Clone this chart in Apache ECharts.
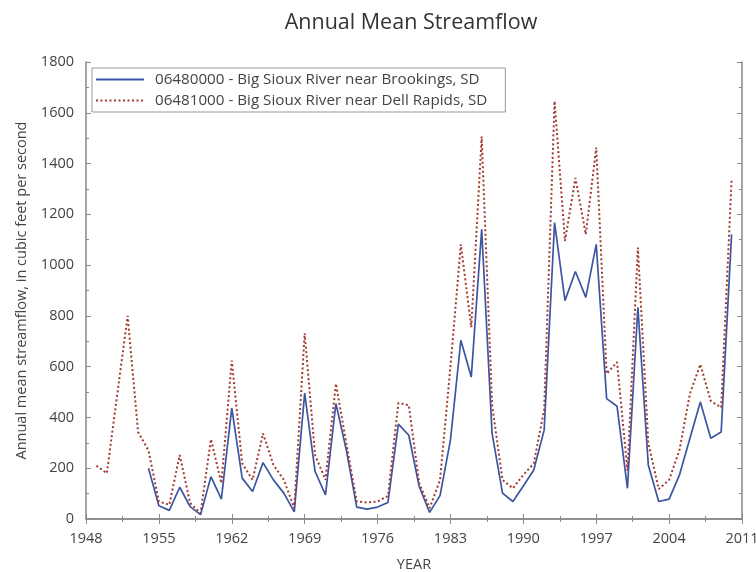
<!DOCTYPE html>
<html>
<head>
<meta charset="utf-8">
<title>Annual Mean Streamflow</title>
<script src="https://cdn.jsdelivr.net/npm/echarts@6/dist/echarts.min.js"></script>
<style>
  html, body { margin: 0; padding: 0; background: #fff; }
  #chart { width: 756px; height: 572px; }
</style>
</head>
<body>
<div id="chart"></div>
<script>
// years 1949-2010
const years = [1949, 1950, 1951, 1952, 1953, 1954, 1955, 1956, 1957, 1958, 1959,
  1960, 1961, 1962, 1963, 1964, 1965, 1966, 1967, 1968, 1969,
  1970, 1971, 1972, 1973, 1974, 1975, 1976, 1977, 1978, 1979,
  1980, 1981, 1982, 1983, 1984, 1985, 1986, 1987, 1988, 1989,
  1990, 1991, 1992, 1993, 1994, 1995, 1996, 1997, 1998, 1999,
  2000, 2001, 2002, 2003, 2004, 2005, 2006, 2007, 2008, 2009, 2010]

// 06480000 - Brookings (record starts 1954)
const brookings = [null, null, null, null, null, 200, 52, 34, 125, 49, 17,
  167, 78, 437, 161, 108, 222, 154, 102, 28, 496,
  187, 95, 455, 272, 47, 39, 47, 65, 374, 330,
  128, 26, 92, 311, 704, 559, 1141, 337, 102, 69,
  130, 193, 350, 1167, 860, 975, 873, 1082, 474, 444,
  121, 834, 213, 69, 78, 174, 318, 461, 318, 343, 1121]

// 06481000 - Dell Rapids
const dellRapids = [210, 180, 490, 800, 343, 270, 69, 56, 252, 63, 23,
  314, 141, 624, 219, 154, 337, 213, 154, 43, 731,
  252, 154, 533, 298, 69, 65, 69, 91, 457, 448,
  141, 43, 154, 600, 1082, 755, 1506, 450, 154, 121,
  174, 219, 430, 1646, 1095, 1343, 1121, 1463, 572, 618,
  190, 1069, 300, 118, 154, 272, 494, 609, 465, 439, 1337]

const seriesNames = [
  '06480000 - Big Sioux River near Brookings, SD',
  '06481000 - Big Sioux River near Dell Rapids, SD'
]

const font = 'Open Sans, Noto Sans, sans-serif'
const textColor = '#444'
const frameColor = '#8a8a8a'

const chart = echarts.init(document.getElementById('chart'))

const pairs = vals => years.map((y, i) => [y, vals[i]])

// mirror axes only give the box its ticks on top / right
const mirrorX = {
  type: 'value', position: 'top', min: 1948, max: 2011, interval: 7,
  axisLine: { show: true, lineStyle: { color: frameColor, width: 1.5 } },
  axisTick: { show: true, inside: true, length: 5, lineStyle: { color: frameColor } },
  minorTick: { show: true, splitNumber: 2, length: 3, lineStyle: { color: frameColor } },
  axisLabel: { show: false },
  splitLine: { show: false }
}
const mirrorY = {
  type: 'value', position: 'right', min: 0, max: 1800, interval: 200,
  axisLine: { show: true, lineStyle: { color: frameColor, width: 1.5 } },
  axisTick: { show: true, inside: true, length: 5, lineStyle: { color: frameColor } },
  minorTick: { show: true, splitNumber: 2, length: 3, lineStyle: { color: frameColor } },
  axisLabel: { show: false },
  splitLine: { show: false }
}

const option = {
  backgroundColor: '#fff',
  animation: false,
  title: {
    text: 'Annual Mean Streamflow',
    left: 406,
    top: 7,
    textAlign: 'center',
    textStyle: { fontFamily: font, fontSize: 21.5, fontWeight: 'normal', color: '#333' }
  },
  legend: {
    orient: 'vertical',
    left: 92,
    top: 68,
    data: seriesNames,
    itemWidth: 48,
    itemHeight: 14,
    itemGap: 6,
    padding: [4, 18, 4, 3],
    borderColor: '#999',
    borderWidth: 1,
    itemStyle: { opacity: 0 },
    textStyle: { fontFamily: font, fontSize: 15.2, color: textColor, padding: [0, 0, 0, 6] }
  },
  grid: { left: 86, right: 14, top: 62, bottom: 53, outerBoundsMode: 'none' },
  xAxis: [{
    type: 'value',
    min: 1948,
    max: 2011,
    interval: 7,
    name: 'YEAR',
    nameLocation: 'middle',
    nameGap: 38,
    nameTextStyle: { fontFamily: font, fontSize: 14.5, color: textColor },
    axisLine: { show: true, lineStyle: { color: frameColor, width: 1.5 } },
    axisTick: { show: true, inside: true, length: 5, lineStyle: { color: frameColor } },
    minorTick: { show: true, splitNumber: 2, length: 3, lineStyle: { color: frameColor } },
    axisLabel: { fontFamily: font, fontSize: 14.5, color: textColor, margin: 12, formatter: v => String(v) },
    splitLine: { show: false }
  }, mirrorX],
  yAxis: [{
    type: 'value',
    min: 0,
    max: 1800,
    interval: 200,
    name: 'Annual mean streamflow, in cubic feet per second',
    nameLocation: 'middle',
    nameGap: 57,
    nameTextStyle: { fontFamily: font, fontSize: 14.5, color: textColor },
    axisLine: { show: true, lineStyle: { color: frameColor, width: 1.5 } },
    axisTick: { show: true, inside: true, length: 5, lineStyle: { color: frameColor } },
    minorTick: { show: true, splitNumber: 2, length: 3, lineStyle: { color: frameColor } },
    axisLabel: { fontFamily: font, fontSize: 14.5, color: textColor, margin: 12, formatter: v => String(v) },
    splitLine: { show: false }
  }, mirrorY],
  series: [
    {
      name: seriesNames[0],
      type: 'line',
      data: pairs(brookings),
      symbol: 'none',
      connectNulls: false,
      lineStyle: { color: '#3b55a3', width: 1.7 },
      itemStyle: { color: '#3b55a3' }
    },
    {
      name: seriesNames[1],
      type: 'line',
      data: pairs(dellRapids),
      symbol: 'none',
      lineStyle: { color: '#a3392e', width: 2, type: [2, 2.5] },
      itemStyle: { color: '#a3392e' }
    }
  ]
}

chart.setOption(option)
</script>
</body>
</html>
